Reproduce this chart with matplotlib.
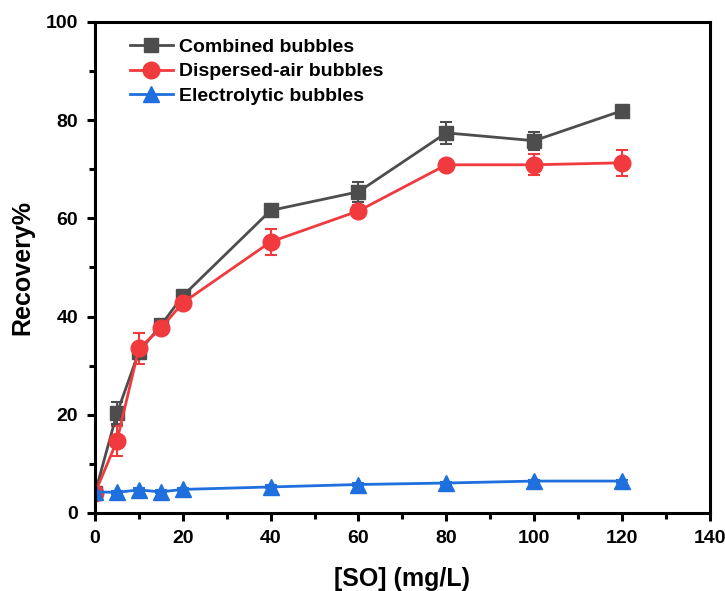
import numpy as np
import matplotlib.pyplot as plt
from matplotlib.ticker import MultipleLocator

plt.rcParams['font.family'] = ['Liberation Sans', 'DejaVu Sans']
plt.rcParams['font.weight'] = 'bold'

# concentration of SO (mg/L)
conc = [0, 5, 10, 15, 20, 40, 60, 80, 100, 120]

combined = [4.0, 20.3, 32.8, 38.2, 44.2, 61.6, 65.4, 77.4, 75.8, 81.9]
combined_err = [0.3, 2.2, 1.5, 0.8, 1.0, 0.5, 2.0, 2.2, 1.8, 0.5]

dispersed = [4.0, 14.7, 33.5, 37.6, 42.8, 55.2, 61.5, 70.9, 70.9, 71.3]
dispersed_err = [0.3, 3.0, 3.2, 0.8, 1.2, 2.6, 1.2, 0.5, 2.1, 2.7]

electrolytic = [4.3, 4.2, 4.7, 4.3, 4.8, 5.3, 5.8, 6.1, 6.5, 6.5]
electrolytic_err = [0.3, 0.3, 0.3, 0.3, 0.3, 0.3, 0.3, 0.3, 0.3, 0.3]

fig = plt.figure(figsize=(7.25, 5.91), dpi=100)
ax = fig.add_axes([0.131, 0.132, 0.848, 0.831])

ax.errorbar(conc, combined, yerr=combined_err, color='#4d4d4d', marker='s', ms=10,
            lw=2, capsize=4, elinewidth=1.5, capthick=1.5, label='Combined bubbles')
ax.errorbar(conc, dispersed, yerr=dispersed_err, color='#f03a3e', marker='o', ms=12,
            lw=2, capsize=4, elinewidth=1.5, capthick=1.5, label='Dispersed-air bubbles')
ax.errorbar(conc, electrolytic, yerr=electrolytic_err, color='#1f6fde', marker='^', ms=12,
            lw=2, capsize=4, elinewidth=1.5, capthick=1.5, label='Electrolytic bubbles')

ax.set_xlim(0, 140)
ax.set_ylim(0, 100)
ax.xaxis.set_major_locator(MultipleLocator(20))
ax.xaxis.set_minor_locator(MultipleLocator(10))
ax.yaxis.set_major_locator(MultipleLocator(20))
ax.yaxis.set_minor_locator(MultipleLocator(10))

for s in ax.spines.values():
    s.set_linewidth(2.2)
ax.tick_params(which='major', direction='out', length=6, width=2.2, labelsize=14, pad=6)
ax.tick_params(which='minor', direction='out', length=4, width=2.2)
ax.tick_params(top=False, right=False, which='both')

ax.set_xlabel('[SO] (mg/L)', fontsize=18, fontweight='bold', labelpad=15)
ax.set_ylabel('Recovery%', fontsize=18, fontweight='bold', labelpad=8)

handles, labels = ax.get_legend_handles_labels()
handles = [h[0] for h in handles]
ax.legend(handles, labels, loc='upper left', frameon=False, fontsize=14,
          handlelength=2.2, handletextpad=0.3, labelspacing=0.35,
          bbox_to_anchor=(0.03, 1.0), borderaxespad=0.45)

plt.savefig('out.png', dpi=100)
